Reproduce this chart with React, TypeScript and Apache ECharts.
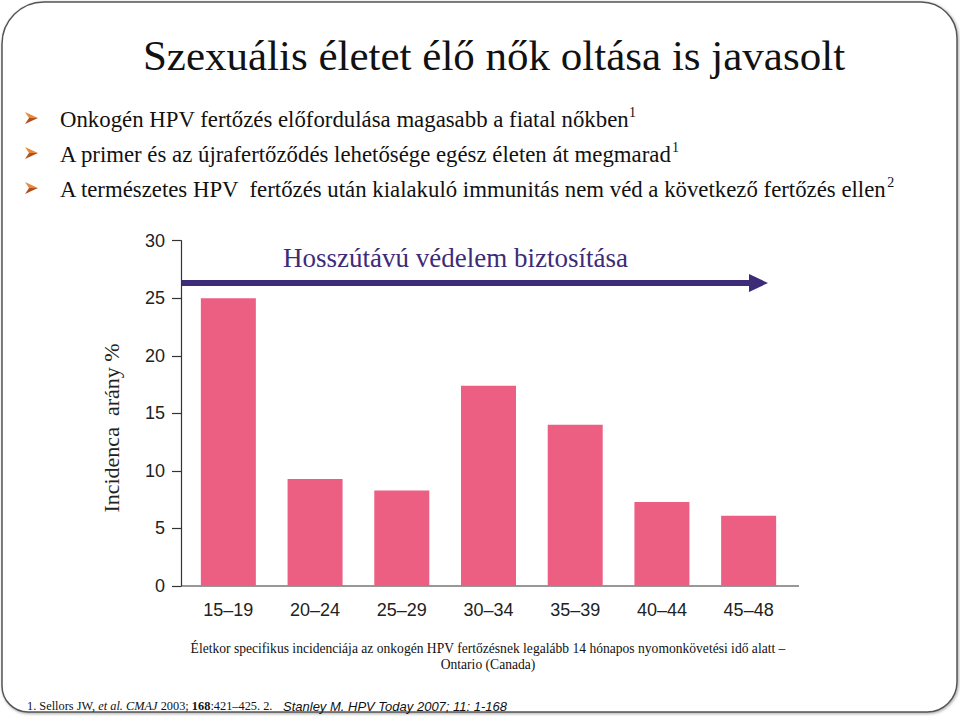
import React, { useEffect, useRef } from "react";
import * as echarts from "echarts";

const categories = ["15–19", "20–24", "25–29", "30–34", "35–39", "40–44", "45–48"];
const incidence = [25.0, 9.3, 8.3, 17.4, 14.0, 7.3, 6.1];
const yTicks = { min: 0, max: 30, interval: 5 };

const titleText = "Szexuális életet élő nők oltása is javasolt";
const bullets = [
  { text: "Onkogén HPV fertőzés előfordulása magasabb a fiatal nőkben", sup: "1" },
  { text: "A primer és az újrafertőződés lehetősége egész életen át megmarad", sup: "1" },
  { text: "A természetes HPV  fertőzés után kialakuló immunitás nem véd a következő fertőzés ellen", sup: "2" },
];
const arrowLabel = "Hosszútávú védelem biztosítása";
const yName = "Incidenca  arány %";
const captionLines = [
  "Életkor specifikus incidenciája az onkogén HPV fertőzésnek legalább 14 hónapos nyomonkövetési idő alatt –",
  "Ontario (Canada)",
];

const SERIF = "Liberation Serif";
const SANS = "Liberation Sans";

export default function App() {
  const ref = useRef<HTMLDivElement>(null);
  useEffect(() => {
    document.body.style.margin = "0";
    const chart = echarts.init(ref.current!, null, { renderer: "svg" });
    const bulletY = [118, 153, 188];
    const graphic: any[] = [
      {
        type: "rect",
        shape: { x: 2, y: 2, width: 955, height: 710, r: [42, 36, 30, 26] },
        style: { fill: "#fff", stroke: "#555", lineWidth: 1.5, shadowBlur: 3, shadowOffsetX: 1, shadowOffsetY: 1, shadowColor: "rgba(0,0,0,0.35)" },
        z: -10,
      },
      {
        type: "text",
        x: 494,
        y: 55,
        style: { text: titleText, fontSize: 43, fontFamily: SERIF, fill: "#111", align: "center", verticalAlign: "middle" },
      },
    ];
    bullets.forEach((b, i) => {
      const cy = bulletY[i];
      graphic.push({
        type: "polygon",
        shape: { points: [[25, cy - 6], [38, cy], [29, cy]] },
        style: { fill: "#e8893a" },
      });
      graphic.push({
        type: "polygon",
        shape: { points: [[29, cy], [38, cy], [25, cy + 6]] },
        style: { fill: "#b0501c" },
      });
      graphic.push({
        type: "text",
        x: 60,
        y: cy,
        style: {
          text: `{a|${b.text}}{s|${b.sup}}`,
          verticalAlign: "middle",
          rich: {
            a: { fontSize: 22.8, fontFamily: SERIF, fill: "#111", lineHeight: 26, verticalAlign: "bottom" },
            s: { fontSize: 14, fontFamily: SERIF, fill: "#111", lineHeight: 24, verticalAlign: "top" },
          },
        },
      });
    });
    graphic.push(
      {
        type: "text",
        x: 283,
        y: 258,
        style: { text: arrowLabel, fontSize: 27, fontFamily: SERIF, fill: "#3d2b78", verticalAlign: "middle" },
      },
      {
        type: "line",
        shape: { x1: 181, y1: 283, x2: 752, y2: 283 },
        style: { stroke: "#3d2b78", lineWidth: 6 },
      },
      {
        type: "polygon",
        shape: { points: [[749, 274], [768, 283], [749, 292]] },
        style: { fill: "#3d2b78" },
      },
      {
        type: "line",
        shape: { x1: 181, y1: 586, x2: 799, y2: 586 },
        style: { stroke: "#333", lineWidth: 1.2 },
      },
      {
        type: "text",
        x: 111,
        y: 428,
        rotation: Math.PI / 2,
        style: { text: yName, fontSize: 22, fontFamily: SERIF, fill: "#222", align: "center", verticalAlign: "middle" },
      },
      {
        type: "text",
        x: 488,
        y: 648,
        scaleX: 0.97,
        style: { text: captionLines[0], fontSize: 14, fontFamily: SERIF, fill: "#111", align: "center", verticalAlign: "middle" },
      },
      {
        type: "text",
        x: 488,
        y: 664,
        scaleX: 0.97,
        style: { text: captionLines[1], fontSize: 14, fontFamily: SERIF, fill: "#111", align: "center", verticalAlign: "middle" },
      },
      {
        type: "text",
        x: 27,
        y: 706,
        scaleX: 0.95,
        style: {
          text: "{n|1. Sellors JW, }{i|et al. CMAJ}{n| 2003; }{b|168}{n|:421–425. 2. }",
          verticalAlign: "middle",
          rich: {
            n: { fontSize: 13, fontFamily: SERIF, fill: "#111" },
            i: { fontSize: 13, fontFamily: SERIF, fontStyle: "italic", fill: "#111" },
            b: { fontSize: 13, fontFamily: SERIF, fontWeight: "bold", fill: "#111" },
          },
        },
      },
      {
        type: "text",
        x: 283,
        y: 706,
        style: { text: "Stanley M. HPV Today 2007; 11: 1-168", fontSize: 13, fontFamily: SANS, fontStyle: "italic", fill: "#111", verticalAlign: "middle" },
      }
    );

    chart.setOption({
      animation: false,
      backgroundColor: "#fff",
      grid: { left: 185, right: 168, top: 240.7, bottom: 131, containLabel: false },
      xAxis: {
        type: "category",
        data: categories,
        axisLine: { show: false },
        axisTick: { show: false },
        axisLabel: { fontSize: 18, color: "#222", fontFamily: SANS, margin: 15 },
      },
      yAxis: {
        type: "value",
        min: yTicks.min,
        max: yTicks.max,
        interval: yTicks.interval,
        offset: 4,
        axisLine: { show: true, lineStyle: { color: "#333", width: 1.2 } },
        axisTick: { show: true, length: 9, lineStyle: { color: "#333", width: 1.2 } },
        axisLabel: { fontSize: 18, color: "#222", fontFamily: SANS, margin: 16 },
        splitLine: { show: false },
      },
      series: [
        {
          type: "bar",
          data: incidence,
          barWidth: 55,
          itemStyle: { color: "#ec5f82" },
        },
      ],
      graphic,
    });
    return () => chart.dispose();
  }, []);
  return <div ref={ref} style={{ width: 960, height: 717 }} />;
}
